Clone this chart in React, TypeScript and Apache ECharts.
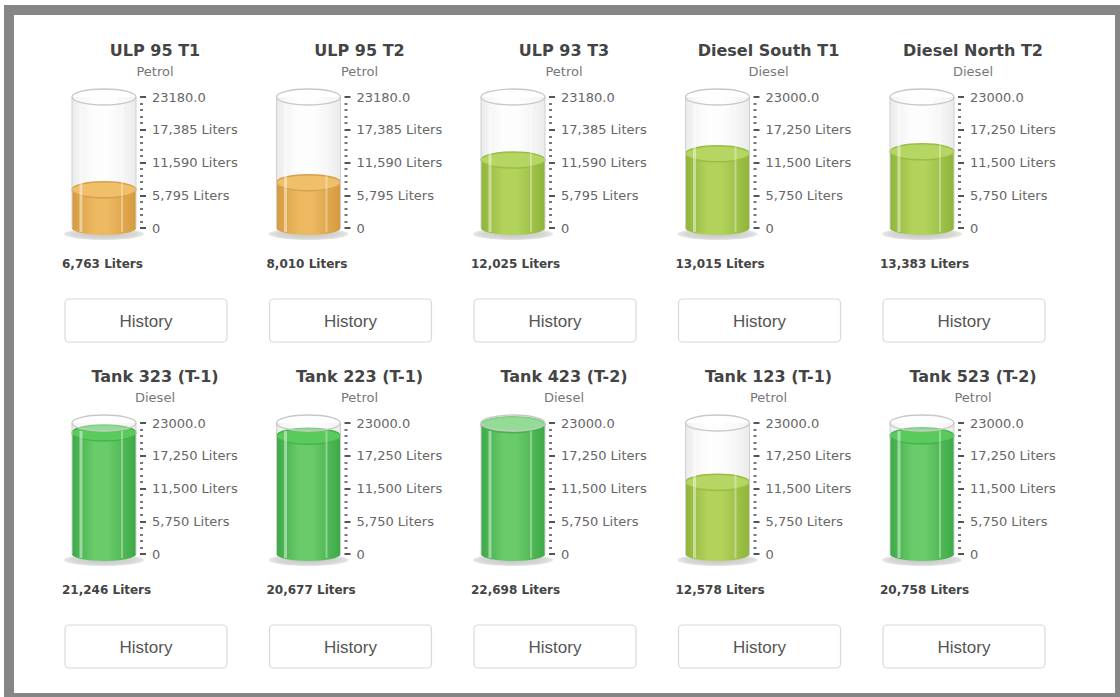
import React, { useEffect, useRef } from "react";
import * as echarts from "echarts";

const tankNames = ["ULP 95 T1", "ULP 95 T2", "ULP 93 T3", "Diesel South T1", "Diesel North T2", "Tank 323 (T-1)", "Tank 223 (T-1)", "Tank 423 (T-2)", "Tank 123 (T-1)", "Tank 523 (T-2)"];
const products = ["Petrol", "Petrol", "Petrol", "Diesel", "Diesel", "Diesel", "Petrol", "Diesel", "Petrol", "Petrol"];
const capacities = [23180, 23180, 23180, 23000, 23000, 23000, 23000, 23000, 23000, 23000];
const levels = [6763, 8010, 12025, 13015, 13383, 21246, 20677, 22698, 12578, 20758];
const buttonLabel = "History";

const COL0 = 72;
const COLW = 204.5;
const ROWH = 326;
const CYL_W = 64;

const palettes = {
  orange: { edge: "#d59a3e", mid: "#ecb961", top: "#efbf6a", rim: "#d8a04a" },
  lime: { edge: "#8fb53a", mid: "#b2d25c", top: "#b6d663", rim: "#98bd42" },
  green: { edge: "#3ca947", mid: "#6acb6a", top: "#5bca5d", rim: "#43b34b" },
};

function paletteFor(v: number, cap: number) {
  const f = v / cap;
  if (f < 0.4) return palettes.orange;
  if (f < 0.8) return palettes.lime;
  return palettes.green;
}

function fmt(n: number) {
  return n.toLocaleString("en-US");
}

export default function App() {
  const ref = useRef<HTMLDivElement>(null);
  useEffect(() => {
    document.body.style.margin = "0";
    const chart = echarts.init(ref.current!, null, { renderer: "svg" });
    const grids: any[] = [];
    const xAxes: any[] = [];
    const yAxes: any[] = [];
    const series: any[] = [];
    const graphics: any[] = [];

    const frameColor = "#868686";
    graphics.push(
      { type: "rect", shape: { x: 4, y: 5, width: 1116, height: 10 }, style: { fill: frameColor }, silent: true },
      { type: "rect", shape: { x: 4, y: 5, width: 10, height: 692 }, style: { fill: frameColor }, silent: true },
      { type: "rect", shape: { x: 1115, y: 5, width: 5, height: 692 }, style: { fill: frameColor }, silent: true },
      { type: "rect", shape: { x: 4, y: 693, width: 1116, height: 4 }, style: { fill: frameColor }, silent: true }
    );

    tankNames.forEach((name, i) => {
      const col = i % 5;
      const row = Math.floor(i / 5);
      const cx = COL0 + col * COLW;
      const ry = row * ROWH;
      const cap = capacities[i];
      const pal = paletteFor(levels[i], cap);

      grids.push({ left: cx, top: ry + 97, width: CYL_W, height: 131 });
      xAxes.push({ type: "category", data: ["level"], gridIndex: i, show: false });
      yAxes.push({
        type: "value",
        gridIndex: i,
        min: 0,
        max: cap,
        interval: cap / 4,
        position: "right",
        offset: 4,
        axisLine: { show: false },
        axisTick: { show: true, length: 6, lineStyle: { color: "#555", width: 2 } },
        minorTick: { show: true, splitNumber: 5, length: 3, lineStyle: { color: "#555", width: 1.6 } },
        splitLine: { show: false },
        minorSplitLine: { show: false },
        axisLabel: {
          margin: 12,
          fontSize: 13,
          fontFamily: "DejaVu Sans",
          color: "#666",
          formatter: (v: number) => (v === 0 ? "0" : v === cap ? cap.toFixed(1) : fmt(v) + " Liters"),
        },
      });

      series.push({
        type: "custom",
        xAxisIndex: i,
        yAxisIndex: i,
        data: [[0, levels[i]]],
        clip: false,
        renderItem: (params: any, api: any) => {
          const cs = params.coordSys;
          const x = cs.x;
          const w = cs.width;
          const mx = x + w / 2;
          const yTop = api.coord([0, cap])[1];
          const y0 = api.coord([0, 0])[1];
          const yv = api.coord([0, api.value(1)])[1];
          const er = 8;
          const hGrad = (a: string, b: string) => ({
            type: "linear", x: 0, y: 0, x2: 1, y2: 0,
            colorStops: [
              { offset: 0, color: a },
              { offset: 0.35, color: b },
              { offset: 0.55, color: b },
              { offset: 1, color: a },
            ],
          });
          const children: any[] = [
            {
              type: "ellipse",
              shape: { cx: mx, cy: y0 + 6, rx: w / 2 + 8, ry: 6 },
              style: {
                fill: { type: "radial", x: 0.5, y: 0.5, r: 0.5, colorStops: [{ offset: 0, color: "#c4c4c4" }, { offset: 0.8, color: "#d8d8d8" }, { offset: 1, color: "#e8e8e8" }] },
              },
            },
            {
              type: "rect",
              shape: { x, y: yTop, width: w, height: y0 - yTop },
              style: { fill: hGrad("rgba(220,220,220,0.6)", "rgba(250,250,250,0.3)") },
            },
            {
              type: "ellipse",
              shape: { cx: mx, cy: y0, rx: w / 2, ry: er - 1 },
              style: { fill: "rgba(220,220,220,0.7)" },
            },
            {
              type: "ellipse",
              shape: { cx: mx, cy: y0, rx: w / 2, ry: er - 1 },
              style: { fill: hGrad(pal.edge, pal.mid) },
            },
            {
              type: "rect",
              shape: { x, y: yv, width: w, height: y0 - yv },
              style: { fill: hGrad(pal.edge, pal.mid) },
            },
            {
              type: "ellipse",
              shape: { cx: mx, cy: yv, rx: w / 2, ry: er },
              style: { fill: pal.top, stroke: pal.rim, lineWidth: 1.5 },
            },
            {
              type: "line",
              shape: { x1: x + 9, y1: yTop + er, x2: x + 9, y2: y0 + 4 },
              style: { stroke: "rgba(255,255,255,0.45)", lineWidth: 3 },
            },
            {
              type: "line",
              shape: { x1: x + w - 14, y1: yTop + er, x2: x + w - 14, y2: y0 + 4 },
              style: { stroke: "rgba(255,255,255,0.35)", lineWidth: 2 },
            },
            {
              type: "line",
              shape: { x1: x, y1: yTop, x2: x, y2: y0 },
              style: { stroke: "#d0d0d0", lineWidth: 1 },
            },
            {
              type: "line",
              shape: { x1: x + w, y1: yTop, x2: x + w, y2: y0 },
              style: { stroke: "#d0d0d0", lineWidth: 1 },
            },
            {
              type: "ellipse",
              shape: { cx: mx, cy: yTop, rx: w / 2, ry: er },
              style: { fill: "rgba(255,255,255,0.35)", stroke: "#c8c8c8", lineWidth: 1.3 },
            },
          ];
          return { type: "group", children };
        },
      });

      graphics.push(
        {
          type: "text",
          x: cx + 83,
          y: ry + 50,
          style: { text: name, fontFamily: "DejaVu Sans", fontWeight: "bold", fontSize: 16, fill: "#444", align: "center", verticalAlign: "middle" },
        },
        {
          type: "text",
          x: cx + 83,
          y: ry + 71,
          style: { text: products[i], fontFamily: "DejaVu Sans", fontSize: 13, fill: "#777", align: "center", verticalAlign: "middle" },
        },
        {
          type: "text",
          x: cx - 10,
          y: ry + 264,
          style: { text: fmt(levels[i]) + " Liters", fontFamily: "DejaVu Sans", fontWeight: "bold", fontSize: 12, fill: "#444", align: "left", verticalAlign: "middle" },
        },
        {
          type: "rect",
          shape: { x: cx - 7, y: ry + 299, width: 162, height: 43, r: 4 },
          style: { fill: "#fff", stroke: "#dcd8d6", lineWidth: 1.2 },
        },
        {
          type: "text",
          x: cx + 74,
          y: ry + 321,
          style: { text: buttonLabel, fontFamily: "Liberation Sans", fontSize: 17, fill: "#555", align: "center", verticalAlign: "middle" },
        }
      );
    });

    chart.setOption({
      animation: false,
      backgroundColor: "#fff",
      grid: grids,
      xAxis: xAxes,
      yAxis: yAxes,
      series,
      graphic: graphics,
    });
    return () => chart.dispose();
  }, []);
  return <div ref={ref} style={{ position: "fixed", left: 0, top: 0, width: 1120, height: 697, background: "#fff" }} />;
}
